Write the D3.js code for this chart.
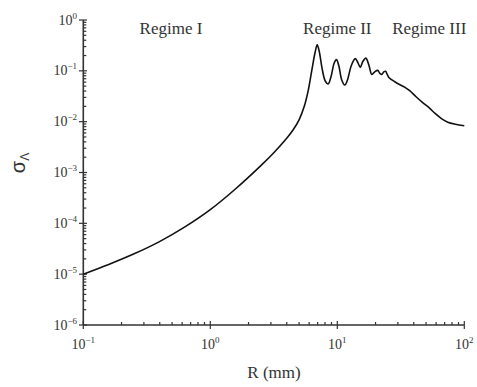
<!DOCTYPE html>
<html>
<head>
<meta charset="utf-8">
<script src="https://cdn.jsdelivr.net/npm/d3@7"></script>
<style>
  html, body { margin: 0; padding: 0; background: #fff; }
  svg { display: block; }
  .serif { font-family: "Liberation Serif", "Times New Roman", serif; fill: #333; }
</style>
</head>
<body>
<svg id="chart" width="477" height="387"></svg>
<script>
// Radius R (mm)
const radius = [
  0.1, 0.1585, 0.2512, 0.3981, 0.6310, 1.0, 1.585, 2.512, 3.162, 3.981,
  4.467, 5.012, 5.495, 5.888, 6.310, 6.683, 6.950, 7.211, 7.586, 8.035,
  8.472, 8.913, 9.441, 9.840, 10.28, 10.84, 11.46, 12.02, 12.88, 13.84,
  14.52, 15.17, 15.85, 16.79, 17.78, 18.71, 19.72, 20.80, 21.63, 22.39,
  23.23, 23.99, 24.83, 25.70, 28.18, 30.90, 33.88, 37.15, 41.69, 46.77,
  52.48, 58.88, 66.07, 74.13, 85.11, 100
];
// sigma_Lambda at each radius
const sigma = [
  1.00e-5, 1.55e-5, 2.51e-5, 4.37e-5, 8.51e-5, 1.86e-4, 4.79e-4, 1.38e-3, 2.45e-3, 4.68e-3,
  6.76e-3, 1.10e-2, 2.00e-2, 3.98e-2, 0.105, 0.229, 0.324, 0.240, 0.112, 0.0631,
  0.0550, 0.0759, 0.141, 0.166, 0.126, 0.0661, 0.0525, 0.0661, 0.126, 0.174,
  0.145, 0.117, 0.151, 0.178, 0.126, 0.0851, 0.0955, 0.102, 0.0891, 0.0851,
  0.0955, 0.0977, 0.0832, 0.0724, 0.0617, 0.0537, 0.0479, 0.0407, 0.0309, 0.0240,
  0.0191, 0.0145, 0.0115, 0.00977, 0.00891, 0.00832
];
const xTickExp = [-1, 0, 1, 2];
const yTickExp = [0, -1, -2, -3, -4, -5, -6];
const regimeLabels = ["Regime I", "Regime II", "Regime III"];
const regimeAt = [0.49, 10.0, 53.0];

const svg = d3.select("#chart");
const x = d3.scaleLog().domain([0.1, 100]).range([83.3, 464.3]);
const y = d3.scaleLog().domain([1e-6, 1]).range([325, 20]);
const ink = "#333";

// minor ticks
const minorX = [], minorY = [];
for (let e = -1; e < 2; e++) for (let k = 2; k <= 9; k++) minorX.push(k * Math.pow(10, e));
for (let e = -6; e < 0; e++) for (let k = 2; k <= 9; k++) minorY.push(k * Math.pow(10, e));

const g = svg.append("g");
g.selectAll(".mx").data(minorX).join("line")
  .attr("x1", d => x(d)).attr("x2", d => x(d))
  .attr("y1", 325).attr("y2", 322)
  .attr("stroke", ink).attr("stroke-width", 1.2);
g.selectAll(".Mx").data(xTickExp).join("line")
  .attr("x1", d => x(Math.pow(10, d))).attr("x2", d => x(Math.pow(10, d)))
  .attr("y1", 329).attr("y2", 321)
  .attr("stroke", ink).attr("stroke-width", 1.2);
g.selectAll(".my").data(minorY).join("line")
  .attr("y1", d => y(d)).attr("y2", d => y(d))
  .attr("x1", 83.3).attr("x2", 86.3)
  .attr("stroke", ink).attr("stroke-width", 1.2);
g.selectAll(".My").data(yTickExp).join("line")
  .attr("y1", d => y(Math.pow(10, d))).attr("y2", d => y(Math.pow(10, d)))
  .attr("x1", 79).attr("x2", 87)
  .attr("stroke", ink).attr("stroke-width", 1.2);

// axis lines
g.append("line").attr("x1", 83.3).attr("x2", 83.3).attr("y1", 20).attr("y2", 325)
  .attr("stroke", ink).attr("stroke-width", 1.6);
g.append("line").attr("x1", 83.3).attr("x2", 464.3).attr("y1", 325).attr("y2", 325)
  .attr("stroke", ink).attr("stroke-width", 1.6);

// tick labels with superscript exponents
xTickExp.forEach(e => {
  const t = svg.append("text").attr("class", "serif")
    .attr("x", x(Math.pow(10, e))).attr("y", 349)
    .attr("text-anchor", "middle").attr("font-size", 14);
  t.append("tspan").text("10");
  t.append("tspan").attr("font-size", 9).attr("dy", -6).text(String(e).replace("-", "\u2212"));
});
yTickExp.forEach(e => {
  const t = svg.append("text").attr("class", "serif")
    .attr("x", 77).attr("y", y(Math.pow(10, e)) + 4.5)
    .attr("text-anchor", "end").attr("font-size", 14);
  t.append("tspan").text("10");
  t.append("tspan").attr("font-size", 9).attr("dy", -6).text(String(e).replace("-", "\u2212"));
});

// axis titles
svg.append("text").attr("class", "serif")
  .attr("x", 274).attr("y", 378).attr("text-anchor", "middle")
  .attr("font-size", 17).text("R (mm)");
const yt = svg.append("text")
  .attr("transform", "translate(25,163) rotate(-90)")
  .attr("text-anchor", "middle")
  .attr("font-family", "Liberation Sans, Arial, sans-serif")
  .attr("fill", ink).attr("font-size", 20);
yt.append("tspan").text("\u03C3");
yt.append("tspan").attr("font-size", 12).attr("dy", 4).text("\u039B");

// regime annotations
regimeLabels.forEach((s, i) => {
  svg.append("text").attr("class", "serif")
    .attr("x", x(regimeAt[i])).attr("y", 34).attr("text-anchor", "middle")
    .attr("font-size", 17).text(s);
});

// the curve
const pts = radius.map((r, i) => [r, sigma[i]]);
svg.append("path").datum(pts)
  .attr("fill", "none").attr("stroke", "#111").attr("stroke-width", 1.6)
  .attr("d", d3.line().x(d => x(d[0])).y(d => y(d[1])).curve(d3.curveCatmullRom.alpha(0.5)));
</script>
</body>
</html>
